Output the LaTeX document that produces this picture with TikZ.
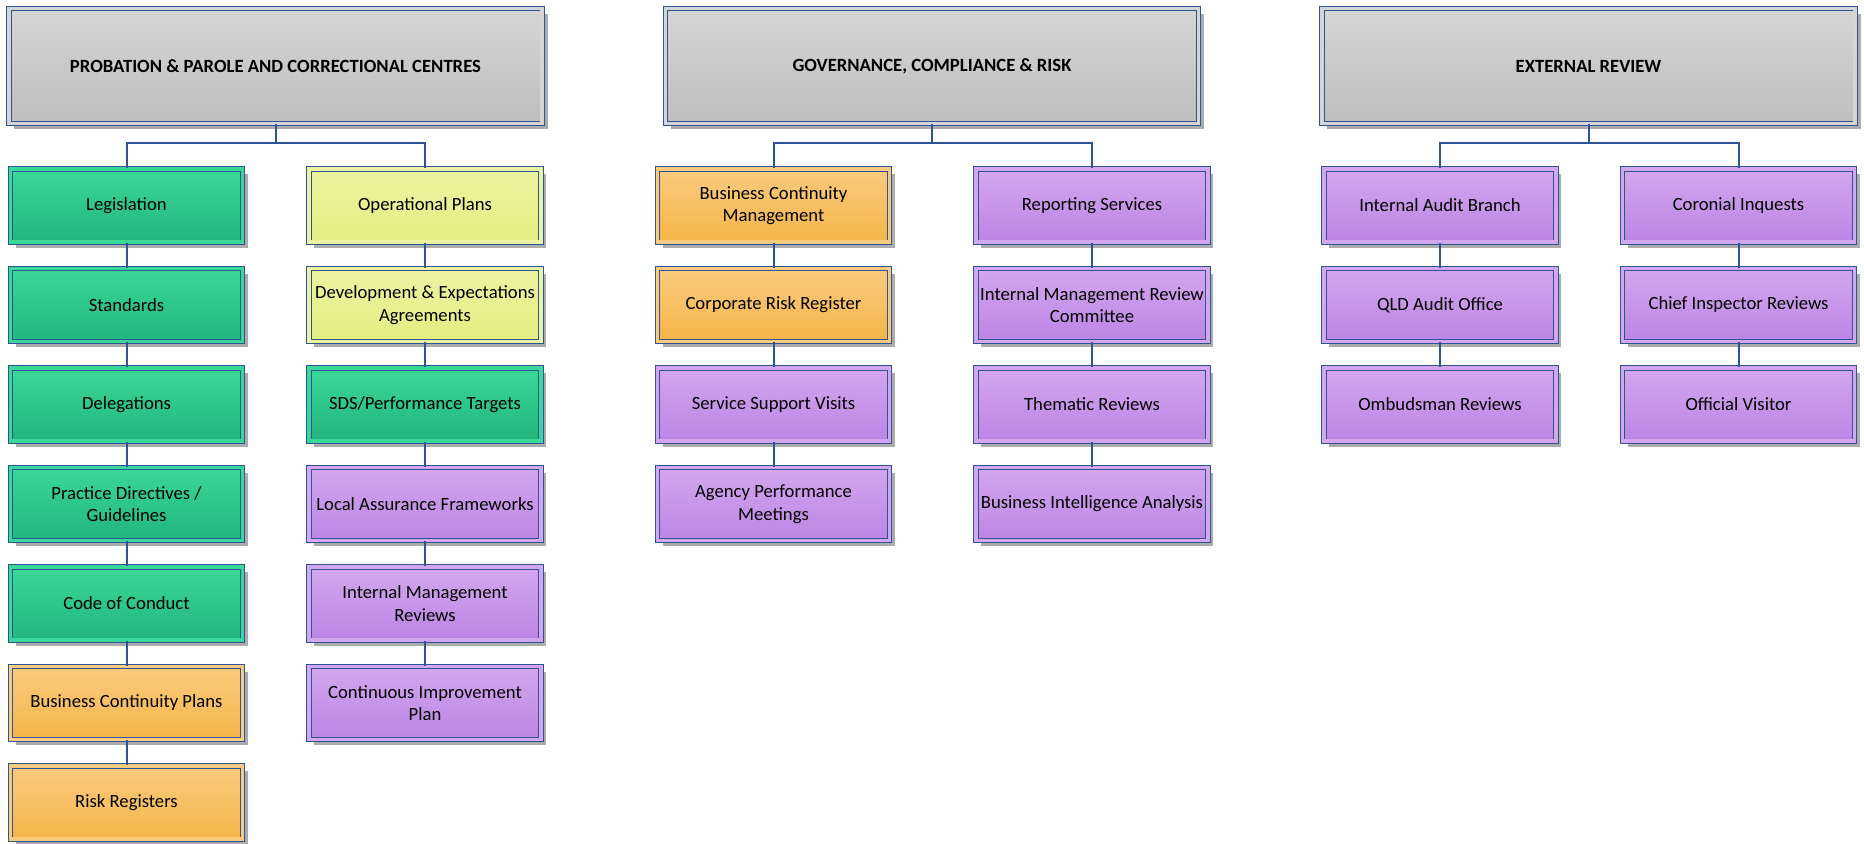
\documentclass[tikz,border=0pt]{standalone}
\usepackage{fontspec}
\setmainfont{Carlito}
\usepackage{tikz}
\usetikzlibrary{shadows}
\definecolor{lineblue}{RGB}{47,84,150}
\definecolor{grytop}{RGB}{213,213,213}
\definecolor{grybot}{RGB}{190,190,190}
\definecolor{grntop}{RGB}{58,216,152}
\definecolor{grnbot}{RGB}{34,181,124}
\definecolor{ylwtop}{RGB}{236,244,162}
\definecolor{ylwbot}{RGB}{227,238,128}
\definecolor{orgtop}{RGB}{249,203,126}
\definecolor{orgbot}{RGB}{245,181,72}
\definecolor{pptop}{RGB}{211,167,238}
\definecolor{ppbot}{RGB}{189,132,228}

\begin{document}
\begin{tikzpicture}[x=0.75pt,y=-0.75pt]
\tikzstyle{box}=[draw=lineblue,line width=0.7pt,double distance=2.6pt,align=center,inner sep=2pt,
  minimum width=174pt,minimum height=55pt,font=\fontsize{14}{17}\selectfont,
  drop shadow={shadow xshift=4pt,shadow yshift=-4pt,fill=gray!65,opacity=1}]
\tikzstyle{head}=[box,double=grytop,top color=grytop,bottom color=grybot,
  minimum width=400pt,minimum height=86pt,font=\bfseries\fontsize{14}{17}\selectfont]
\tikzstyle{grnbox}=[box,double=grntop,top color=grntop,bottom color=grnbot]
\tikzstyle{ylwbox}=[box,double=ylwtop,top color=ylwtop,bottom color=ylwbot]
\tikzstyle{orgbox}=[box,double=orgtop,top color=orgtop,bottom color=orgbot]
\tikzstyle{ppbox}=[box,double=pptop,top color=pptop,bottom color=ppbot]
\tikzstyle{conn}=[draw=lineblue,line width=1.5pt]
\useasboundingbox (0,0) rectangle (1864,843);

\node[head] (probation) at (275.5,66) {PROBATION \& PAROLE AND CORRECTIONAL CENTRES};
\node[head] (governance) at (932,66) {GOVERNANCE, COMPLIANCE \& RISK};
\node[head] (external) at (1588.5,66) {EXTERNAL REVIEW};

\node[grnbox] (legislation) at (126.5,205.5) {Legislation};
\node[grnbox] (standards) at (126.5,305) {Standards};
\node[grnbox] (delegations) at (126.5,404.5) {Delegations};
\node[grnbox] (practice) at (126.5,504) {Practice Directives /\\Guidelines};
\node[grnbox] (conduct) at (126.5,603.5) {Code of Conduct};
\node[orgbox] (bcplans) at (126.5,703) {Business Continuity Plans};
\node[orgbox] (riskreg) at (126.5,802.5) {Risk Registers};

\node[ylwbox] (opplans) at (425,205.5) {Operational Plans};
\node[ylwbox] (devexp) at (425,305) {Development \& Expectations\\Agreements};
\node[grnbox] (sds) at (425,404.5) {SDS/Performance Targets};
\node[ppbox] (localaf) at (425,504) {Local Assurance Frameworks};
\node[ppbox] (intmgmt) at (425,603.5) {Internal Management\\Reviews};
\node[ppbox] (contimp) at (425,703) {Continuous Improvement\\Plan};

\node[orgbox] (bcm) at (773.5,205.5) {Business Continuity\\Management};
\node[orgbox] (corprisk) at (773.5,305) {Corporate Risk Register};
\node[ppbox] (ssvisits) at (773.5,404.5) {Service Support Visits};
\node[ppbox] (agency) at (773.5,504) {Agency Performance\\Meetings};

\node[ppbox] (reporting) at (1092,205.5) {Reporting Services};
\node[ppbox] (imrc) at (1092,305) {Internal Management Review\\Committee};
\node[ppbox] (thematic) at (1092,404.5) {Thematic Reviews};
\node[ppbox] (bia) at (1092,504) {Business Intelligence Analysis};

\node[ppbox] (iab) at (1440,205.5) {Internal Audit Branch};
\node[ppbox] (qao) at (1440,305) {QLD Audit Office};
\node[ppbox] (ombudsman) at (1440,404.5) {Ombudsman Reviews};

\node[ppbox] (coronial) at (1738.5,205.5) {Coronial Inquests};
\node[ppbox] (chiefinsp) at (1738.5,305) {Chief Inspector Reviews};
\node[ppbox] (visitor) at (1738.5,404.5) {Official Visitor};

\draw[conn] (probation.south) -- ++(0,19) -| (legislation.north);
\draw[conn] (probation.south) -- ++(0,19) -| (opplans.north);
\draw[conn] (governance.south) -- ++(0,19) -| (bcm.north);
\draw[conn] (governance.south) -- ++(0,19) -| (reporting.north);
\draw[conn] (external.south) -- ++(0,19) -| (iab.north);
\draw[conn] (external.south) -- ++(0,19) -| (coronial.north);

\draw[conn] (legislation) -- (standards);
\draw[conn] (standards) -- (delegations);
\draw[conn] (delegations) -- (practice);
\draw[conn] (practice) -- (conduct);
\draw[conn] (conduct) -- (bcplans);
\draw[conn] (bcplans) -- (riskreg);
\draw[conn] (opplans) -- (devexp);
\draw[conn] (devexp) -- (sds);
\draw[conn] (sds) -- (localaf);
\draw[conn] (localaf) -- (intmgmt);
\draw[conn] (intmgmt) -- (contimp);
\draw[conn] (bcm) -- (corprisk);
\draw[conn] (corprisk) -- (ssvisits);
\draw[conn] (ssvisits) -- (agency);
\draw[conn] (reporting) -- (imrc);
\draw[conn] (imrc) -- (thematic);
\draw[conn] (thematic) -- (bia);
\draw[conn] (iab) -- (qao);
\draw[conn] (qao) -- (ombudsman);
\draw[conn] (coronial) -- (chiefinsp);
\draw[conn] (chiefinsp) -- (visitor);
\end{tikzpicture}
\end{document}
